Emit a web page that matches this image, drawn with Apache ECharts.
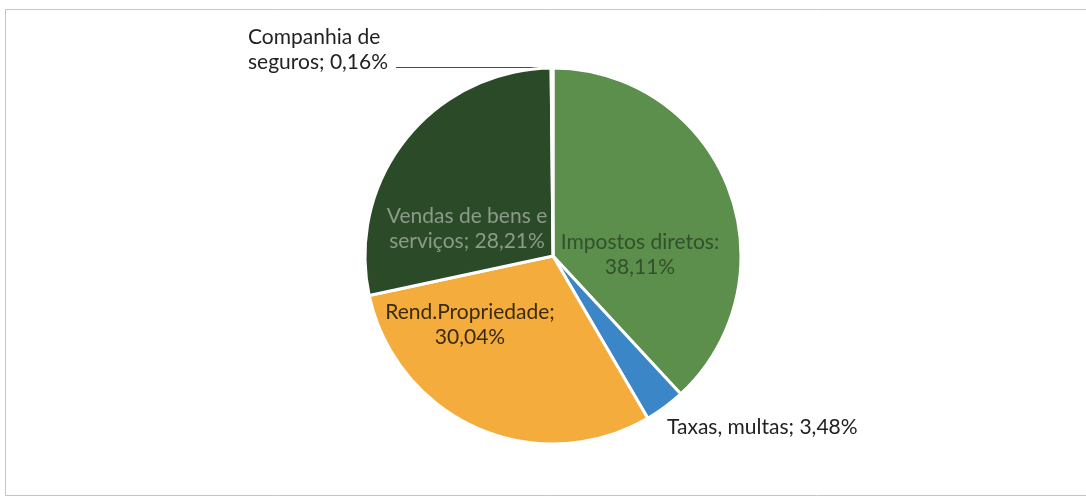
<!DOCTYPE html>
<html>
<head>
<meta charset="utf-8">
<script src="https://cdn.jsdelivr.net/npm/echarts@6/dist/echarts.min.js"></script>
<style>
html,body{margin:0;padding:0;background:#fff;}
#chart{width:1086px;height:498px;}
</style>
</head>
<body>
<div id="chart"></div>
<script>
const categories = ['Impostos diretos', 'Taxas, multas', 'Rend.Propriedade', 'Vendas de bens e serviços', 'Companhia de seguros'];
const values = [38.11, 3.48, 30.04, 28.21, 0.16];
const labelTexts = ['Impostos diretos:\n38,11%', 'Taxas, multas; 3,48%', 'Rend.Propriedade;\n30,04%', 'Vendas de bens e\nserviços; 28,21%', 'Companhia de\nseguros; 0,16%'];
const colors = ['#5b8f4b', '#3a86c6', '#f4ad3c', '#2b4a28', '#a9c98f'];
const labelColors = ['#33502c', '#222222', '#3a2a10', '#8c9b89', '#222222'];
const inside = [true, false, true, true, false];

const labelPos = [
  {x: 640, y: 255, align: 'center'},
  {x: 667, y: 427, align: 'left'},
  {x: 470, y: 325, align: 'center'},
  {x: 467, y: 229, align: 'center'},
  {x: 248, y: 50, align: 'left'}
];

const chart = echarts.init(document.getElementById('chart'));
chart.setOption({
  animation: false,
  backgroundColor: '#ffffff',
  graphic: [{
    type: 'rect', silent: true,
    shape: {x: 5.5, y: 9.5, width: 1100, height: 486},
    style: {fill: 'none', stroke: '#c4c4c4', lineWidth: 1}
  }],
  series: [{
    type: 'pie',
    center: [553, 256],
    radius: 188,
    startAngle: 90,
    clockwise: true,
    avoidLabelOverlap: false,
    itemStyle: {borderColor: '#ffffff', borderWidth: 3},
    data: categories.map((c, i) => ({
      name: c,
      value: values[i],
      itemStyle: {color: colors[i]},
      label: {
        show: true,
        position: inside[i] ? 'inside' : 'outside',
        formatter: labelTexts[i],
        color: labelColors[i],
        fontFamily: 'Lato, Open Sans, sans-serif',
        fontSize: 21,
        lineHeight: 25
      },
      labelLine: {
        show: i === 4,
        lineStyle: {color: '#4a4a4a', width: 1}
      }
    })),
    labelLayout: function (p) {
      const lp = labelPos[p.dataIndex];
      const o = {x: lp.x, y: lp.y, align: lp.align, verticalAlign: 'middle'};
      if (p.dataIndex === 4) {
        o.labelLinePoints = [[551, 69], [551, 67.5], [396, 67.5]];
      }
      return o;
    }
  }]
});
</script>
</body>
</html>
